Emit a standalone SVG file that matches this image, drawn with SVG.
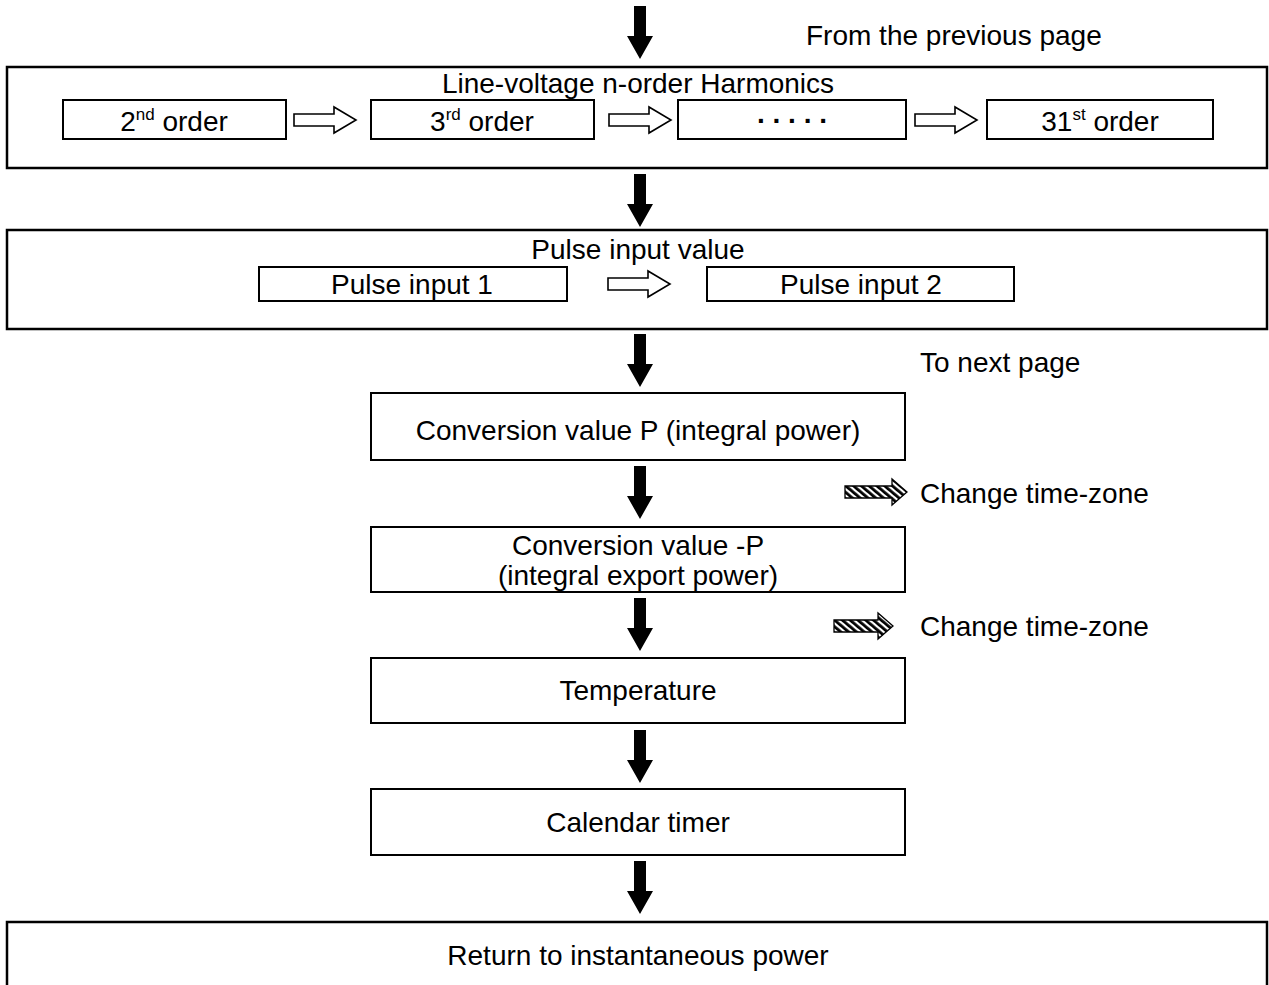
<svg xmlns="http://www.w3.org/2000/svg" width="1269" height="985" viewBox="0 0 1269 985">
  <style>
    text { font-family: "Liberation Sans", Arial, sans-serif; font-size: 28px; fill: #000; }
    .c { text-anchor: middle; }
    .sup { font-size: 17px; }
    .box { fill: none; stroke: #000; stroke-width: 2.5; }
    .sub { fill: none; stroke: #000; stroke-width: 2; }
    .down { fill: #000; }
    .hollow { fill: #fff; stroke: #000; stroke-width: 1.6; stroke-linejoin: miter; }
    .hatch { fill: url(#stripes); stroke: #000; stroke-width: 1.3; }
  </style>
  <defs>
    <pattern id="stripes" patternUnits="userSpaceOnUse" width="5" height="5" patternTransform="rotate(-50)">
      <rect width="5" height="5" fill="#fff"/>
      <rect width="2.8" height="5" fill="#000"/>
    </pattern>
    <!-- solid downward arrow, tip at (0,53) -->
    <path id="dn" d="M-6,0 H6 V30 H13 L0,53 L-13,30 H-6 Z"/>
    <!-- outlined right arrow, 62 long -->
    <path id="rt" d="M0,-6 H40 V-13 L62,0 L40,13 V6 H0 Z"/>
  </defs>

  <g id="label-from-previous">
    <text x="806" y="45">From the previous page</text>
  </g>

  <g id="harmonics">
    <rect class="box" x="7" y="67" width="1260" height="101"/>
    <text class="c" x="638" y="93">Line-voltage n-order Harmonics</text>
    <g id="order-2">
      <rect class="sub" x="63" y="100" width="223" height="39"/>
      <text class="c" x="174" y="131">2<tspan class="sup" dy="-11">nd</tspan><tspan dy="11"> order</tspan></text>
    </g>
    <g id="order-3">
      <rect class="sub" x="371" y="100" width="223" height="39"/>
      <text class="c" x="482" y="131">3<tspan class="sup" dy="-11">rd</tspan><tspan dy="11"> order</tspan></text>
    </g>
    <g id="order-more">
      <rect class="sub" x="678" y="100" width="228" height="39"/>
      <text class="c" x="792" y="123" style="font-weight:bold">. . . . .</text>
    </g>
    <g id="order-31">
      <rect class="sub" x="987" y="100" width="226" height="39"/>
      <text class="c" x="1100" y="131">31<tspan class="sup" dy="-11">st</tspan><tspan dy="11"> order</tspan></text>
    </g>
  </g>

  <g id="pulse">
    <rect class="box" x="7" y="230" width="1260" height="99"/>
    <text class="c" x="638" y="259">Pulse input value</text>
    <g id="pulse-1">
      <rect class="sub" x="259" y="267" width="308" height="34"/>
      <text class="c" x="412" y="294">Pulse input 1</text>
    </g>
    <g id="pulse-2">
      <rect class="sub" x="707" y="267" width="307" height="34"/>
      <text class="c" x="861" y="294">Pulse input 2</text>
    </g>
  </g>

  <g id="label-next">
    <text x="920" y="372">To next page</text>
  </g>

  <g id="conv-p">
    <rect class="sub" x="371" y="393" width="534" height="67"/>
    <text class="c" x="638" y="440">Conversion value P (integral power)</text>
  </g>

  <g id="label-tz-1">
    <text x="920" y="503">Change time-zone</text>
  </g>

  <g id="conv-neg-p">
    <rect class="sub" x="371" y="527" width="534" height="65"/>
    <text class="c" x="638" y="555">Conversion value -P</text>
    <text class="c" x="638" y="585">(integral export power)</text>
  </g>

  <g id="label-tz-2">
    <text x="920" y="636">Change time-zone</text>
  </g>

  <g id="temperature">
    <rect class="sub" x="371" y="658" width="534" height="65"/>
    <text class="c" x="638" y="700">Temperature</text>
  </g>

  <g id="calendar">
    <rect class="sub" x="371" y="789" width="534" height="66"/>
    <text class="c" x="638" y="832">Calendar timer</text>
  </g>

  <g id="return">
    <rect class="box" x="7" y="922" width="1260" height="80"/>
    <text class="c" x="638" y="965">Return to instantaneous power</text>
  </g>

  <!-- connectors -->
  <g id="connectors">
    <use href="#dn" class="down" x="640" y="6"/>
    <use href="#dn" class="down" x="640" y="174"/>
    <use href="#dn" class="down" x="640" y="334"/>
    <use href="#dn" class="down" x="640" y="466"/>
    <use href="#dn" class="down" x="640" y="598"/>
    <use href="#dn" class="down" x="640" y="730"/>
    <use href="#dn" class="down" x="640" y="861"/>

    <use href="#rt" class="hollow" x="294" y="120"/>
    <use href="#rt" class="hollow" x="609" y="120"/>
    <use href="#rt" class="hollow" x="915" y="120"/>
    <use href="#rt" class="hollow" x="608" y="284"/>

    <path class="hatch" d="M845,486 H892 V479 L907,492 L892,505 V498 H845 Z"/>
    <path class="hatch" d="M834,620 H878 V613 L893,626 L878,639 V632 H834 Z"/>
  </g>
</svg>
